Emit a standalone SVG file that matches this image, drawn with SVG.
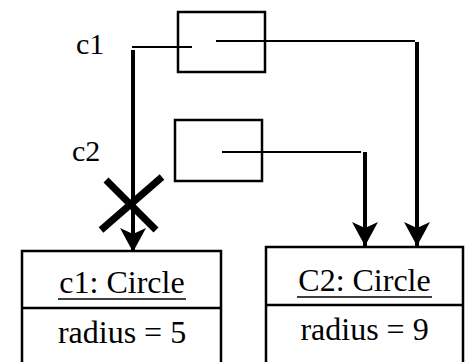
<svg xmlns="http://www.w3.org/2000/svg" width="465" height="362" viewBox="0 0 465 362">
<style>
.box{fill:none;stroke:#000;stroke-width:2.5}
.t{font-family:'Liberation Serif','DejaVu Serif',serif;font-size:32px;fill:#000}
.lbl{font-family:'Liberation Serif','DejaVu Serif',serif;font-size:30px;fill:#000}
.thin{fill:none;stroke:#000;stroke-width:2}
.thick{fill:none;stroke:#000;stroke-width:4}
</style>
<defs>
<marker id="ah" markerUnits="userSpaceOnUse" markerWidth="26" markerHeight="26" refX="24" refY="13" orient="auto" viewBox="0 0 26 26">
<path d="M0,0 L24,13 L0,26 L6,13 Z" fill="#000"/>
</marker>
</defs>
<g id="label-c1"><text class="lbl" x="76" y="54">c1</text></g>
<g id="label-c2"><text class="lbl" x="72" y="161">c2</text></g>
<g id="ref-c1"><rect class="box" x="178" y="12" width="87" height="60"/></g>
<g id="ref-c2"><rect class="box" x="175" y="120" width="87" height="61"/></g>
<g id="obj-c1">
<rect class="box" x="22" y="251" width="199" height="120"/>
<line class="box" x1="22" y1="308" x2="221" y2="308"/>
<text class="t" x="122" y="293" text-anchor="middle">c1: Circle</text>
<line x1="58" y1="299" x2="186" y2="299" stroke="#000" stroke-width="1.5"/>
<text class="t" x="122" y="343" text-anchor="middle">radius = 5</text>
</g>
<g id="obj-c2">
<rect class="box" x="266" y="247" width="197" height="124"/>
<line class="box" x1="266" y1="305" x2="463" y2="305"/>
<text class="t" x="364.5" y="291" text-anchor="middle">C2: Circle</text>
<line x1="297" y1="297" x2="432" y2="297" stroke="#000" stroke-width="1.5"/>
<text class="t" x="364.5" y="340" text-anchor="middle">radius = 9</text>
</g>
<g id="connectors">
<line class="thin" x1="132" y1="47" x2="192" y2="47"/>
<line class="thick" x1="133" y1="50" x2="133" y2="252" marker-end="url(#ah)"/>
<polyline class="thin" points="216,41 415,41"/>
<line class="thick" x1="417" y1="42" x2="417" y2="246" marker-end="url(#ah)"/>
<polyline class="thin" points="222,152 361,152"/>
<line class="thick" x1="365" y1="152" x2="365" y2="246" marker-end="url(#ah)"/>
<g id="cross" stroke="#000" stroke-width="7">
<line x1="106" y1="180" x2="156" y2="230"/>
<line x1="162" y1="177" x2="101" y2="230"/>
</g>
</g>
</svg>
